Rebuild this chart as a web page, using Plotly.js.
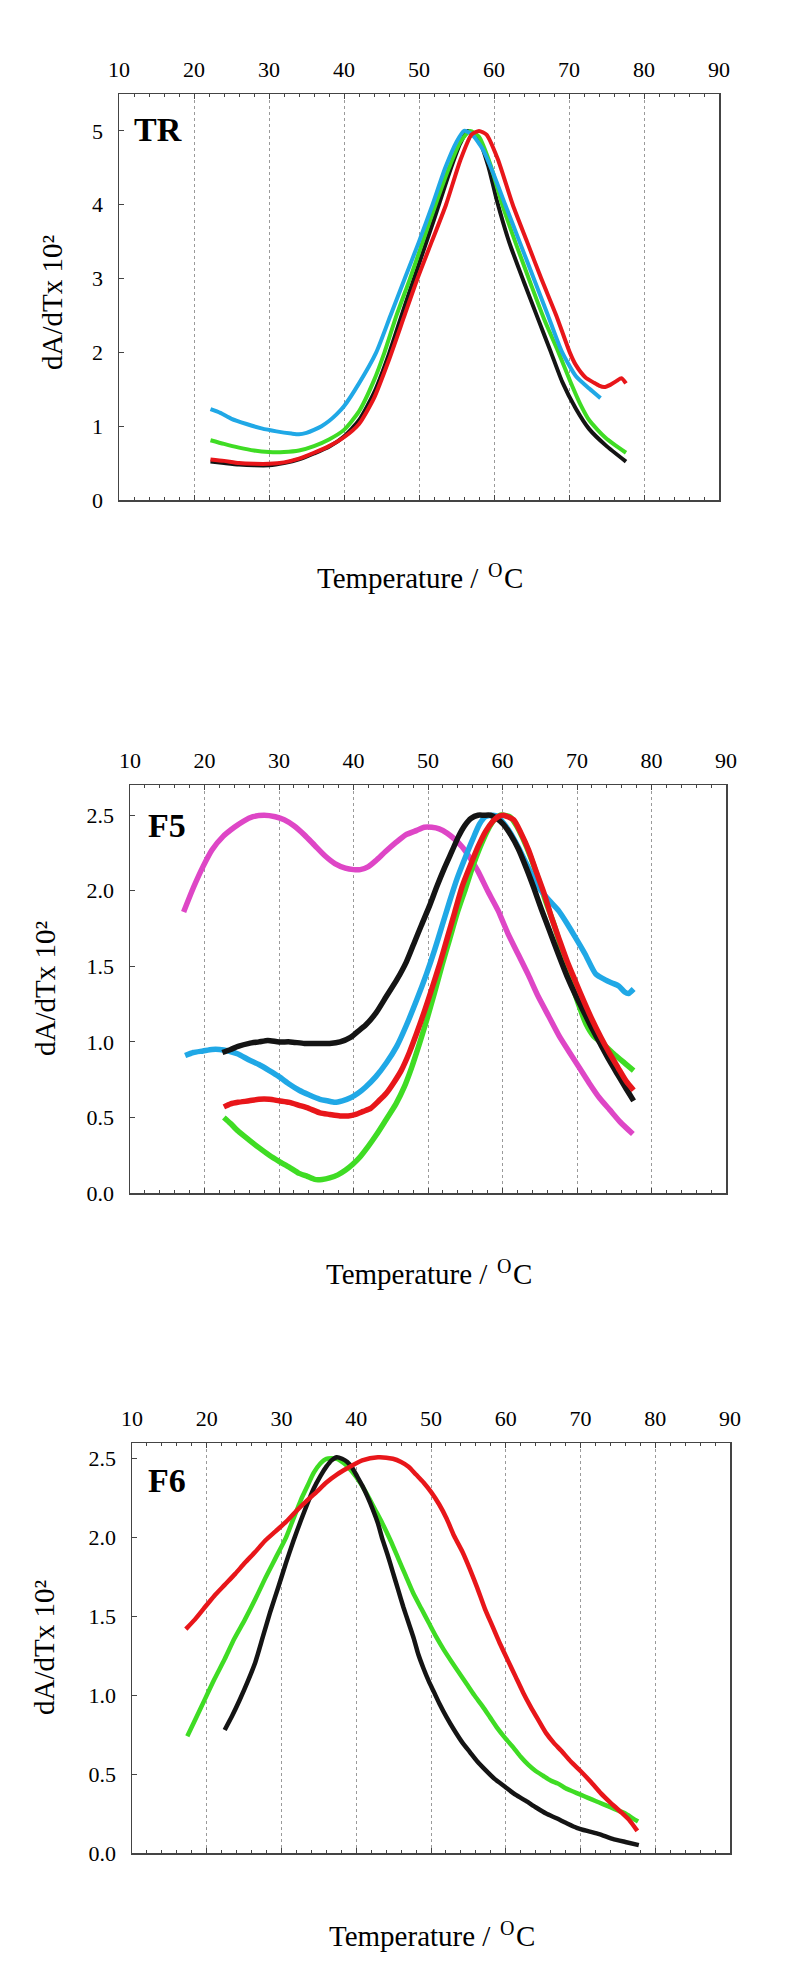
<!DOCTYPE html>
<html>
<head>
<meta charset="utf-8">
<script src="https://cdn.plot.ly/plotly-3.0.1.min.js"></script>
<style>
  html, body { margin: 0; padding: 0; background: #ffffff; }
  #chart { width: 800px; height: 1979px; }
</style>
</head>
<body>
<div id="chart"></div>
<script>
// ---------------- DATA ----------------
// Panel TR
const trBlackT = [22.2, 24, 26, 28, 30, 32, 34, 36, 38, 40, 42, 44, 46, 48, 50, 52, 54, 55.5, 56.5, 58, 59.3, 60.4, 62, 64, 66, 67.6, 69.1, 70.9, 72.7, 74.9, 77.6];
const trBlackA = [0.52, 0.50, 0.48, 0.47, 0.47, 0.50, 0.55, 0.63, 0.72, 0.86, 1.08, 1.45, 1.98, 2.60, 3.20, 3.80, 4.42, 4.83, 5.00, 4.88, 4.50, 4.05, 3.50, 2.95, 2.42, 2.00, 1.60, 1.24, 0.96, 0.74, 0.52];

const trGreenT = [22.2, 24, 26, 28, 30, 32, 34, 36, 38, 40, 42, 44, 45.4, 47, 48.8, 50.5, 52.2, 54, 55.5, 56.8, 58, 59.5, 61.1, 63, 65, 66.8, 68.6, 70.2, 71.5, 72.7, 74.9, 77.6];
const trGreenA = [0.81, 0.76, 0.71, 0.67, 0.65, 0.65, 0.67, 0.73, 0.82, 0.95, 1.20, 1.62, 2.00, 2.50, 3.00, 3.50, 4.00, 4.50, 4.85, 5.00, 4.92, 4.55, 4.00, 3.45, 2.90, 2.42, 2.00, 1.60, 1.30, 1.08, 0.84, 0.64];

const trBlueT = [22.2, 23.5, 25, 27, 29, 31, 33, 34, 35, 36, 37, 38, 39, 40, 42, 44.3, 46.2, 48.1, 50, 51.8, 53.5, 55, 56, 57, 58.5, 60, 61.5, 63.4, 65.3, 67.2, 69, 70.9, 72.7, 74.2];
const trBlueA = [1.23, 1.18, 1.10, 1.03, 0.97, 0.93, 0.90, 0.89, 0.91, 0.95, 1.00, 1.07, 1.16, 1.27, 1.58, 2.00, 2.50, 3.00, 3.50, 4.00, 4.50, 4.85, 5.00, 4.96, 4.75, 4.40, 4.00, 3.50, 3.00, 2.50, 2.02, 1.68, 1.51, 1.38];

const trRedT = [22.2, 24, 26, 28, 30, 32, 34, 36, 38, 40, 42, 44, 46, 48, 49.8, 51.7, 53.6, 55.5, 57, 58, 59, 60.5, 62.5, 64.4, 66.3, 68.3, 70.1, 70.9, 72.2, 73.3, 74.0, 74.7, 75.5, 76.3, 77.0, 77.6];
const trRedA = [0.55, 0.53, 0.50, 0.49, 0.49, 0.51, 0.56, 0.64, 0.73, 0.85, 1.03, 1.38, 1.90, 2.48, 3.00, 3.50, 4.00, 4.60, 4.95, 5.00, 4.95, 4.62, 4.00, 3.50, 3.00, 2.50, 2.00, 1.83, 1.66, 1.59, 1.55, 1.53, 1.56, 1.61, 1.65, 1.58];

// Panel F5
const f5MagT = [17.2, 18.5, 19.8, 21, 22.5, 24, 25.2, 26.5, 28, 29.5, 30.7, 32, 33.4, 34.8, 36.2, 37.5, 38.9, 40, 40.9, 42, 43, 44.3, 45.7, 47, 48.5, 49.5, 50.5, 51.5, 52.6, 53.6, 54.6, 55.6, 56.7, 58, 59.4, 60.7, 62.1, 63.5, 64.8, 66.2, 67.6, 69, 70.3, 71.6, 73, 74.4, 75.8, 77.5];
const f5MagA = [1.86, 2.02, 2.16, 2.27, 2.36, 2.42, 2.46, 2.49, 2.50, 2.49, 2.47, 2.43, 2.37, 2.30, 2.23, 2.18, 2.15, 2.14, 2.14, 2.16, 2.20, 2.26, 2.32, 2.37, 2.40, 2.42, 2.42, 2.41, 2.38, 2.34, 2.29, 2.22, 2.13, 2.00, 1.87, 1.72, 1.58, 1.44, 1.30, 1.17, 1.04, 0.93, 0.83, 0.73, 0.63, 0.55, 0.47, 0.39];

const f5BlackT = [22.4, 23.5, 24.5, 26, 27.3, 28.5, 30, 31.5, 33.4, 35, 36.8, 38.2, 39.6, 40.6, 41.6, 43, 44.4, 45.8, 47.1, 48.1, 49.1, 50.2, 51.2, 52.2, 53.2, 54.1, 54.9, 55.8, 56.7, 57.5, 58.4, 59.2, 60.1, 61.1, 62.1, 63.2, 64.2, 65.2, 66.2, 67.5, 68.7, 69.8, 71, 72, 73.2, 74.3, 75.5, 76.6, 77.6];
const f5BlackA = [0.93, 0.95, 0.97, 0.99, 1.00, 1.01, 1.00, 1.00, 0.99, 0.99, 0.99, 1.00, 1.03, 1.07, 1.11, 1.19, 1.30, 1.41, 1.53, 1.65, 1.77, 1.90, 2.03, 2.15, 2.26, 2.36, 2.43, 2.48, 2.50, 2.50, 2.50, 2.48, 2.44, 2.37, 2.28, 2.15, 2.02, 1.88, 1.75, 1.58, 1.43, 1.31, 1.19, 1.09, 0.98, 0.88, 0.78, 0.69, 0.61];

const f5BlueT = [17.4, 18.5, 19.8, 21, 22, 23.2, 24.5, 26, 27.3, 28.7, 30, 31.4, 32.7, 34, 35.5, 36.5, 37.5, 38.5, 39.6, 40.6, 41.6, 43, 44.4, 45.8, 47.1, 48.5, 49.8, 50.9, 51.9, 52.9, 53.9, 55, 56, 56.9, 57.7, 58.7, 59.4, 60.1, 61.1, 62.1, 63.2, 64.2, 65.2, 66.2, 67.5, 68.7, 69.8, 71.1, 72.5, 73.8, 74.7, 75.6, 76.4, 76.9, 77.6];
const f5BlueA = [0.91, 0.93, 0.94, 0.95, 0.95, 0.94, 0.92, 0.88, 0.85, 0.81, 0.77, 0.72, 0.68, 0.65, 0.62, 0.61, 0.60, 0.61, 0.63, 0.66, 0.70, 0.77, 0.86, 0.97, 1.11, 1.28, 1.45, 1.61, 1.77, 1.93, 2.08, 2.22, 2.34, 2.44, 2.49, 2.50, 2.49, 2.45, 2.38, 2.29, 2.18, 2.08, 2.00, 1.94, 1.87, 1.78, 1.69, 1.58, 1.45, 1.41, 1.39, 1.37, 1.33, 1.32, 1.35];

const f5RedT = [22.6, 23.5, 24.5, 26, 27.3, 28.7, 30, 31.4, 32.7, 34, 35.5, 36.8, 38.2, 39.3, 40.3, 41.3, 42.3, 43.4, 44.4, 45.4, 46.4, 47.5, 48.5, 49.5, 50.5, 51.6, 52.6, 53.6, 54.6, 55.7, 56.7, 57.7, 58.7, 59.4, 60.1, 61.5, 62.5, 63.5, 64.5, 65.6, 66.6, 67.6, 68.7, 69.8, 71, 72, 73.2, 74.3, 75.5, 76.6, 77.6];
const f5RedA = [0.57, 0.59, 0.60, 0.61, 0.62, 0.62, 0.61, 0.60, 0.58, 0.56, 0.53, 0.52, 0.51, 0.51, 0.52, 0.54, 0.56, 0.61, 0.66, 0.73, 0.81, 0.93, 1.06, 1.20, 1.35, 1.52, 1.69, 1.86, 2.03, 2.17, 2.29, 2.39, 2.46, 2.49, 2.50, 2.47, 2.38, 2.27, 2.13, 1.98, 1.82, 1.68, 1.53, 1.40, 1.26, 1.15, 1.03, 0.93, 0.83, 0.74, 0.68];

const f5GreenT = [22.6, 23.5, 24.5, 26, 27.3, 28.7, 30, 31.4, 32.7, 33.8, 34.8, 35.8, 36.8, 37.9, 38.9, 39.9, 40.9, 42, 43, 44.3, 45.7, 46.8, 47.8, 48.8, 49.8, 50.9, 51.9, 52.9, 53.9, 55, 56, 57, 58, 58.9, 59.7, 61, 62, 62.8, 63.8, 64.8, 65.8, 66.9, 68, 69, 70.2, 71.2, 72.2, 73.4, 74.3, 75.2, 76.4, 77.6];
const f5GreenA = [0.50, 0.46, 0.41, 0.35, 0.30, 0.25, 0.21, 0.17, 0.13, 0.11, 0.09, 0.09, 0.10, 0.12, 0.15, 0.19, 0.24, 0.31, 0.38, 0.48, 0.59, 0.70, 0.83, 0.98, 1.14, 1.33, 1.51, 1.68, 1.85, 2.01, 2.16, 2.29, 2.40, 2.47, 2.50, 2.49, 2.42, 2.34, 2.22, 2.08, 1.93, 1.78, 1.60, 1.43, 1.25, 1.12, 1.04, 0.99, 0.95, 0.91, 0.86, 0.81];

// Panel F6
const f6RedT = [17.2, 18.4, 19.6, 21, 22.4, 23.8, 25.1, 26.5, 27.8, 29.2, 30.6, 32, 33.3, 34.7, 36, 37.4, 38.8, 40.8, 42.9, 44.9, 46, 47, 48, 49, 50, 51.1, 52.1, 53.1, 54.2, 55.2, 56.2, 57.2, 58.2, 59.2, 60.3, 61.3, 62.3, 63.3, 64.4, 65.4, 66.4, 67.4, 68.7, 70, 71.4, 72.7, 74, 75.4, 76.5, 77.6];
const f6RedA = [1.42, 1.48, 1.55, 1.63, 1.70, 1.77, 1.84, 1.91, 1.98, 2.04, 2.10, 2.17, 2.23, 2.29, 2.35, 2.40, 2.44, 2.49, 2.51, 2.50, 2.48, 2.45, 2.40, 2.35, 2.29, 2.21, 2.12, 2.01, 1.91, 1.80, 1.68, 1.55, 1.44, 1.33, 1.22, 1.12, 1.02, 0.93, 0.84, 0.76, 0.70, 0.65, 0.58, 0.52, 0.45, 0.38, 0.32, 0.26, 0.21, 0.14];

const f6GreenT = [17.4, 18.5, 19.6, 21, 22.4, 23.7, 25.1, 26.5, 27.8, 29.2, 30.6, 31.6, 32.6, 33.5, 34.3, 35.2, 36, 37.4, 38.4, 39.4, 40.5, 41.5, 42.5, 43.5, 44.6, 45.6, 46.6, 47.6, 48.7, 49.7, 50.7, 51.7, 52.8, 53.8, 54.8, 55.8, 56.9, 57.9, 58.9, 59.9, 61, 62, 63, 64, 65, 66, 67, 68, 69, 70, 71, 72, 73, 74, 75, 76, 77, 77.7];
const f6GreenA = [0.74, 0.85, 0.96, 1.10, 1.23, 1.36, 1.48, 1.61, 1.74, 1.87, 2.00, 2.12, 2.24, 2.33, 2.41, 2.47, 2.50, 2.50, 2.47, 2.42, 2.35, 2.27, 2.18, 2.09, 1.98, 1.87, 1.76, 1.65, 1.55, 1.46, 1.37, 1.29, 1.21, 1.14, 1.07, 1.00, 0.93, 0.86, 0.79, 0.73, 0.67, 0.61, 0.56, 0.52, 0.49, 0.46, 0.44, 0.41, 0.39, 0.37, 0.35, 0.33, 0.31, 0.29, 0.27, 0.25, 0.22, 0.20];

const f6BlackT = [22.4, 23.4, 24.4, 25.5, 26.5, 27.5, 28.5, 29.6, 30.6, 31.6, 32.6, 33.5, 34.3, 35.2, 36, 36.7, 37.4, 38.1, 38.8, 39.5, 40.1, 40.8, 41.5, 42.2, 42.9, 43.5, 44.2, 44.9, 45.6, 46.3, 47, 47.7, 48.3, 49, 49.7, 50.4, 51.1, 52.1, 53.1, 54.2, 55.2, 56.2, 57.2, 58.5, 59.9, 61.3, 62.7, 64, 65.4, 66.8, 68.1, 69.5, 70.9, 72.5, 74.3, 76, 77.8];
const f6BlackA = [0.78, 0.87, 0.97, 1.09, 1.21, 1.37, 1.53, 1.69, 1.84, 1.98, 2.11, 2.22, 2.31, 2.39, 2.45, 2.49, 2.51, 2.50, 2.48, 2.44, 2.39, 2.33, 2.26, 2.18, 2.09, 1.99, 1.89, 1.78, 1.67, 1.56, 1.46, 1.36, 1.26, 1.17, 1.09, 1.02, 0.95, 0.86, 0.78, 0.70, 0.64, 0.58, 0.53, 0.47, 0.42, 0.37, 0.33, 0.29, 0.25, 0.22, 0.19, 0.16, 0.14, 0.12, 0.09, 0.07, 0.05];

// Labels
const xTickVals = [10, 20, 30, 40, 50, 60, 70, 80, 90];
const panelNames = ["TR", "F5", "F6"];
const xTitleMain = "Temperature /";
const xTitleSup = "O";
const xTitleUnit = "C";
const yTitleText = "dA/dTx 10\u00B2";

// ---------------- STYLE / LAYOUT ----------------
const W = 800, H = 1979;
const COL = { black: "#141414", red: "#e8161a", green: "#3fdc24", blue: "#20a8e6", magenta: "#de46c6" };
const FONT = "Liberation Serif, Times New Roman, serif";
const TITLE_SIZE = 29, SUP_SIZE = 20;

// pixel boxes of the three plot areas [left, top, right, bottom]
const boxes = [
  [119, 94, 719, 500],
  [130, 785, 726, 1193],
  [132, 1443, 730, 1853]
];
const yRanges = [[0, 5.5], [0, 2.7], [0, 2.6]];
const lineW = [4, 5.5, 4.5];

function px2x(p) { return p / W; }
function px2y(p) { return 1 - p / H; }

const traces = [];
function addLine(x, y, color, idx) {
  const s = idx === 0 ? "" : String(idx + 1);
  traces.push({
    type: "scatter", mode: "lines", x: x, y: y,
    xaxis: "x" + s, yaxis: "y" + s,
    line: { color: color, width: lineW[idx], shape: "spline", smoothing: 0.6 },
    hoverinfo: "skip", showlegend: false
  });
}
addLine(trBlackT, trBlackA, COL.black, 0);
addLine(trGreenT, trGreenA, COL.green, 0);
addLine(trBlueT, trBlueA, COL.blue, 0);
addLine(trRedT, trRedA, COL.red, 0);

addLine(f5MagT, f5MagA, COL.magenta, 1);
addLine(f5GreenT, f5GreenA, COL.green, 1);
addLine(f5BlueT, f5BlueA, COL.blue, 1);
addLine(f5BlackT, f5BlackA, COL.black, 1);
addLine(f5RedT, f5RedA, COL.red, 1);

addLine(f6GreenT, f6GreenA, COL.green, 2);
addLine(f6BlackT, f6BlackA, COL.black, 2);
addLine(f6RedT, f6RedA, COL.red, 2);

const layout = {
  width: W, height: H,
  margin: { l: 0, r: 0, t: 0, b: 0 },
  paper_bgcolor: "#ffffff", plot_bgcolor: "#ffffff",
  showlegend: false,
  annotations: [],
  font: { family: FONT, color: "#000" }
};

const minorVals = [];
for (let v = 12; v < 90; v += 2) { if (v % 10 !== 0) minorVals.push(v); }

boxes.forEach((b, i) => {
  const s = i === 0 ? "" : String(i + 1);
  layout["xaxis" + s] = {
    domain: [px2x(b[0]), px2x(b[2])],
    anchor: "y" + s,
    side: "top",
    range: [10, 90],
    tickvals: xTickVals,
    ticktext: xTickVals.map(String),
    ticks: "inside", ticklen: 5, tickwidth: 1, tickcolor: "#444",
    minor: { tickvals: minorVals, ticks: "inside", ticklen: 3, tickcolor: "#444", showgrid: false },
    showgrid: true, gridcolor: "#9a9a9a", griddash: "dot", gridwidth: 1,
    showline: true, linecolor: "#444", linewidth: 1.5, mirror: "ticks",
    zeroline: false,
    ticklabelstandoff: 7,
    tickfont: { family: FONT, size: 22, color: "#000" },
    fixedrange: true
  };
  layout["yaxis" + s] = {
    domain: [px2y(b[3]), px2y(b[1])],
    anchor: "x" + s,
    range: yRanges[i],
    dtick: i === 0 ? 1 : 0.5,
    tick0: 0,
    tickformat: i === 0 ? "d" : ".1f",
    ticks: "inside", ticklen: 5, tickwidth: 1, tickcolor: "#444",
    showgrid: false,
    showline: true, linecolor: "#444", linewidth: 1.5, mirror: true,
    zeroline: false,
    ticklabelstandoff: 10,
    tickfont: { family: FONT, size: 22, color: "#000" },
    fixedrange: true
  };
});

function addText(text, xpx, ypx, xanchor, size, extra) {
  layout.annotations.push(Object.assign({
    xref: "paper", yref: "paper",
    x: px2x(xpx), y: px2y(ypx),
    xanchor: xanchor, yanchor: "middle",
    text: text, showarrow: false, borderpad: 0,
    font: { family: FONT, size: size, color: "#000" }
  }, extra || {}));
}

// x titles built from three pieces: main text, raised small "O", and "C"
const xTitleY = [578, 1274, 1936];
const yTitleX = [52, 45, 44];
// Times/Liberation Serif advance widths (em)
const wMain = 5.637 * TITLE_SIZE;   // "Temperature /"
const wGap = 0.25 * TITLE_SIZE;
const wSup = 0.722 * SUP_SIZE;
const wUnit = 0.667 * TITLE_SIZE;
boxes.forEach((b, i) => {
  const cx = (b[0] + b[2]) / 2;
  const total = wMain + wGap + wSup + wUnit;
  const xs = cx - total / 2;
  const cy = xTitleY[i];
  addText(xTitleMain, xs + wMain, cy, "right", TITLE_SIZE);
  addText(xTitleSup, xs + wMain + wGap, cy - 8, "left", SUP_SIZE);
  addText(xTitleUnit, xs + wMain + wGap + wSup + 1, cy, "left", TITLE_SIZE);
  addText(yTitleText, yTitleX[i], (b[1] + b[3]) / 2 + (i === 0 ? 6 : 0), "center", TITLE_SIZE, { textangle: -90 });
});

const labelPos = [[133, 129], [147, 825], [147, 1480]];
panelNames.forEach((n, i) => {
  layout.annotations.push({
    xref: "paper", yref: "paper",
    x: px2x(labelPos[i][0]), y: px2y(labelPos[i][1]),
    xanchor: "left", yanchor: "middle",
    text: n, showarrow: false, borderpad: 0,
    font: { family: FONT, size: 34, color: "#000", weight: "bold" }
  });
});

Plotly.newPlot("chart", traces, layout, { staticPlot: true, displayModeBar: false });
</script>
</body>
</html>
